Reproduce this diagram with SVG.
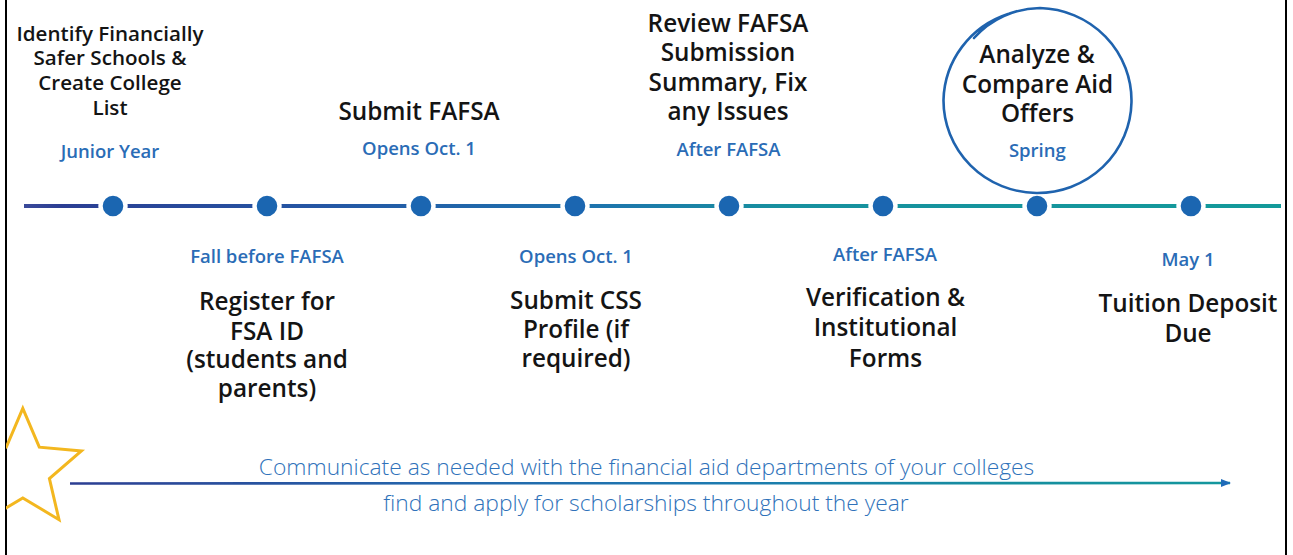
<svg xmlns="http://www.w3.org/2000/svg" width="1293" height="555" viewBox="0 0 1293 555">
<defs>
<style>
.t{font-family:"Open Sans","Liberation Sans",sans-serif;fill:#141414;text-anchor:middle;font-weight:540}
.s{font-family:"Open Sans","Liberation Sans",sans-serif;fill:#2A6CB6;text-anchor:middle;font-weight:600;font-size:18.5px}
.big{font-size:24.3px}
.sm{font-size:20.6px}
.note{font-family:"Open Sans","Liberation Sans",sans-serif;fill:#2F72BA;text-anchor:middle;font-weight:300;font-size:22.8px}
.dot{fill:#1B66B1;stroke:#fff;stroke-width:4.4}
</style>
<linearGradient id="tl" gradientUnits="userSpaceOnUse" x1="24" y1="0" x2="1281" y2="0">
<stop offset="0" stop-color="#3A4A9A"/>
<stop offset="0.03" stop-color="#2B3E93"/>
<stop offset="0.25" stop-color="#2458A5"/>
<stop offset="0.45" stop-color="#1E73AE"/>
<stop offset="0.6" stop-color="#17909F"/>
<stop offset="1" stop-color="#139A9A"/>
</linearGradient>
<linearGradient id="ar" gradientUnits="userSpaceOnUse" x1="70" y1="0" x2="1230" y2="0">
<stop offset="0" stop-color="#2C3E92"/>
<stop offset="0.3" stop-color="#2464AB"/>
<stop offset="0.55" stop-color="#1D79B0"/>
<stop offset="0.8" stop-color="#168E9F"/>
<stop offset="1" stop-color="#14979D"/>
</linearGradient>
<marker id="ah" viewBox="0 0 10 8" refX="9" refY="4" markerWidth="10" markerHeight="8" markerUnits="userSpaceOnUse" orient="auto">
<path d="M0,0 L10,4 L0,8 Z" fill="#1E6BB8"/>
</marker>
<clipPath id="frameclip"><rect x="6" y="0" width="1280" height="555"/></clipPath>
</defs>
<rect width="1293" height="555" fill="#fff"/>
<g id="frame" stroke="#000" stroke-width="2">
<line x1="6" y1="0" x2="6" y2="555"/>
<line x1="1286" y1="0" x2="1286" y2="555"/>
</g>
<g id="connectors">
<line x1="24" y1="206" x2="1281" y2="206" stroke="url(#tl)" stroke-width="4"/>
<line x1="70" y1="483.5" x2="1230" y2="483" stroke="url(#ar)" stroke-width="2.6" marker-end="url(#ah)"/>
</g>
<g id="dots">
<circle class="dot" cx="113" cy="206" r="12.5"/>
<circle class="dot" cx="267" cy="206" r="12.5"/>
<circle class="dot" cx="421" cy="206" r="12.5"/>
<circle class="dot" cx="575" cy="206" r="12.5"/>
<circle class="dot" cx="729" cy="206" r="12.5"/>
<circle class="dot" cx="883" cy="206" r="12.5"/>
<circle class="dot" cx="1037" cy="206" r="12.5"/>
<circle class="dot" cx="1191" cy="206" r="12.5"/>
</g>
<g id="node1">
<text class="t sm" x="110" y="40.5">Identify Financially</text>
<text class="t sm" x="110" y="65.3">Safer Schools &amp;</text>
<text class="t sm" x="110" y="90">Create College</text>
<text class="t sm" x="110" y="114.8">List</text>
<text class="s" x="110" y="158">Junior Year</text>
</g>
<g id="node2">
<text class="s" x="267" y="263">Fall before FAFSA</text>
<text class="t big" x="267" y="310">Register for</text>
<text class="t big" x="267" y="339.5">FSA ID</text>
<text class="t big" x="267" y="368">(students and</text>
<text class="t big" x="267" y="396.7">parents)</text>
</g>
<g id="node3">
<text class="t big" x="419" y="119.5">Submit FAFSA</text>
<text class="s" x="419" y="154.5">Opens Oct. 1</text>
</g>
<g id="node4">
<text class="s" x="576" y="263">Opens Oct. 1</text>
<text class="t big" x="576" y="308.5">Submit CSS</text>
<text class="t big" x="576" y="338">Profile (if</text>
<text class="t big" x="576" y="366.7">required)</text>
</g>
<g id="node5">
<text class="t big" x="728" y="31.5">Review FAFSA</text>
<text class="t big" x="728" y="61.3">Submission</text>
<text class="t big" x="728" y="90.8">Summary, Fix</text>
<text class="t big" x="728" y="119.5">any Issues</text>
<text class="s" x="728.5" y="155.5">After FAFSA</text>
</g>
<g id="node6">
<text class="s" x="885" y="261">After FAFSA</text>
<text class="t big" x="885.5" y="306">Verification &amp;</text>
<text class="t big" x="885.5" y="336">Institutional</text>
<text class="t big" x="885.5" y="366.5">Forms</text>
</g>
<g id="node7">
<path d="M974,38 A89,88 0 0 1 1040,8 A94,92.5 0 1 1 943.5,100 A94,93 0 0 1 1008,14" fill="none" stroke="#1F63AE" stroke-width="2.6" stroke-linecap="round"/>
<text class="t big" x="1037" y="62.7">Analyze &amp;</text>
<text class="t big" x="1037.5" y="92.7">Compare Aid</text>
<text class="t big" x="1037.5" y="121.7">Offers</text>
<text class="s" x="1037.3" y="157">Spring</text>
</g>
<g id="node8">
<text class="s" x="1188" y="266">May 1</text>
<text class="t big" x="1188" y="311.7">Tuition Deposit</text>
<text class="t big" x="1188" y="341.7">Due</text>
</g>
<g id="star" clip-path="url(#frameclip)">
<polygon points="22.8,408.3 39.3,447.2 81.4,450.9 49.4,478.6 59,519.7 22.8,497.9 -13.4,519.7 -3.8,478.6 -35.8,450.9 6.3,447.2" fill="none" stroke="#F3B71F" stroke-width="3" stroke-linejoin="miter"/>
</g>
<g id="notes">
<text class="note" x="646.5" y="475">Communicate as needed with the financial aid departments of your colleges</text>
<text class="note" x="646" y="511">find and apply for scholarships throughout the year</text>
</g>
</svg>
